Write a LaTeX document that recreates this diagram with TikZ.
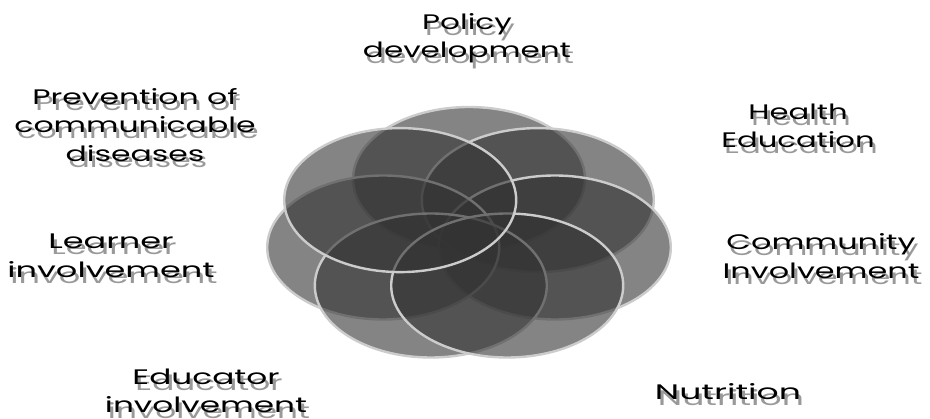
\documentclass[tikz,border=0pt]{standalone}
\usepackage{fontspec}
\setmainfont{Poppins}
\begin{document}
\begin{tikzpicture}[x=1pt,y=-1pt,
  petal/.style={fill=black!80, fill opacity=0.6, draw=black!20, line width=2.4pt, draw opacity=1},
  lbl/.style={font=\fontsize{21}{28.5}\selectfont, align=center, text=black, inner sep=0pt},
  shd/.style={lbl, text=black!40}]
\useasboundingbox (0,0) rectangle (930,419);
\fill[white] (0,0) rectangle (930,419);
% petals
\draw[petal] (469,179) ellipse [x radius=116, y radius=72];
\draw[petal] (537.8,200.1) ellipse [x radius=116, y radius=72];
\draw[petal] (554.8,247.5) ellipse [x radius=116, y radius=72];
\draw[petal] (383.2,247.5) ellipse [x radius=116, y radius=72];
\draw[petal] (430.8,285.5) ellipse [x radius=116, y radius=72];
\draw[petal] (507.2,285.5) ellipse [x radius=116, y radius=72];
\draw[petal] (400.2,200.1) ellipse [x radius=116, y radius=72];
% labels (shadow copy, then text)
\node[shd, xscale=1.48] (policyS) at (470,44) {Policy\\development};
\node[lbl, xscale=1.48] (policy) at (467,38) {Policy\\development};
\node[shd, xscale=1.5] (prevS) at (138,131) {Prevention of\\communicable\\diseases};
\node[lbl, xscale=1.5] (prev) at (135,125) {Prevention of\\communicable\\diseases};
\node[shd, xscale=1.46] (healthS) at (801,132) {Health\\Education};
\node[lbl, xscale=1.46] (health) at (798,126) {Health\\Education};
\node[shd, xscale=1.6] (learnS) at (114,262) {Learner\\involvement};
\node[lbl, xscale=1.6] (learn) at (111,256) {Learner\\involvement};
\node[shd, xscale=1.52] (commS) at (824,262) {Community\\Involvement};
\node[lbl, xscale=1.52] (comm) at (821,256) {Community\\Involvement};
\node[shd, xscale=1.56] (eduS) at (209,397) {Educator\\involvement};
\node[lbl, xscale=1.56] (edu) at (206,391) {Educator\\involvement};
\node[shd, xscale=1.65] (nutS) at (731,398) {Nutrition};
\node[lbl, xscale=1.65] (nut) at (728,392) {Nutrition};
\end{tikzpicture}
\end{document}
